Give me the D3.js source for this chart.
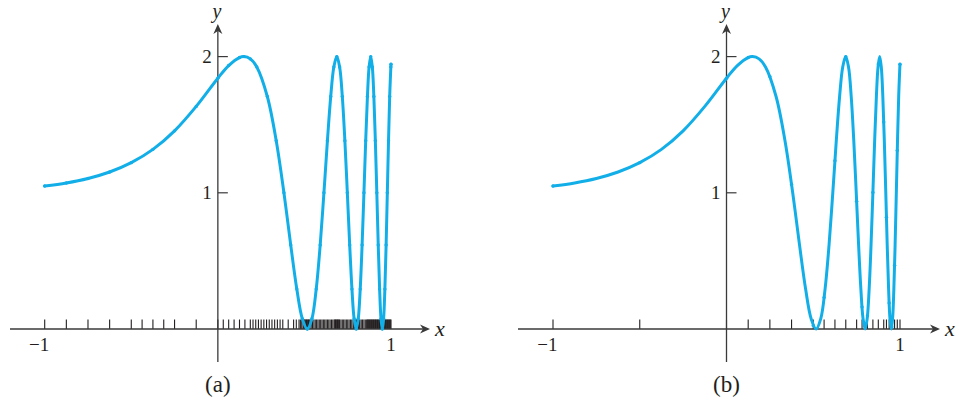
<!DOCTYPE html>
<html>
<head>
<meta charset="utf-8">
<script src="https://cdn.jsdelivr.net/npm/d3@7"></script>
<style>
  html, body { margin: 0; padding: 0; background: #fff; }
  svg { display: block; }
</style>
</head>
<body>
<svg id="chart" width="968" height="402" font-family="'Liberation Serif', 'Times New Roman', serif"></svg>
<script>
// ---- data ----
const curveX = [-1, -0.875, -0.75, -0.625, -0.5, -0.375, -0.25, -0.125, 0, 0.0625, 0.125, 0.1505, 0.1875,
  0.2249, 0.2857, 0.3371, 0.3816, 0.4208, 0.4560, 0.4877, 0.5167, 0.5434, 0.5681, 0.5911, 0.6126, 0.6328,
  0.6519, 0.6699, 0.6870, 0.7033, 0.7188, 0.7336, 0.7478, 0.7614, 0.7745, 0.7870, 0.7992, 0.8109, 0.8222,
  0.8331, 0.8437, 0.8539, 0.8639, 0.8735, 0.8829, 0.8921, 0.9010, 0.9096, 0.9181, 0.9263, 0.9343, 0.9422,
  0.9498, 0.9573, 0.9646, 0.9718, 0.9788, 0.9857, 0.9924, 0.9990, 1];
const curveY = [1.0498, 1.0724, 1.1052, 1.1527, 1.2213, 1.3190, 1.4550, 1.6345, 1.8415, 1.9342, 1.9933, 2, 1.9831,
  1.9239, 1.7071, 1.3827, 1, 0.6173, 0.2929, 0.0761, 0,
  0.0761, 0.2929, 0.6173, 1, 1.3827, 1.7071, 1.9239, 2,
  1.9239, 1.7071, 1.3827, 1, 0.6173, 0.2929, 0.0761, 0,
  0.0761, 0.2929, 0.6173, 1, 1.3827, 1.7071, 1.9239, 2,
  1.9239, 1.7071, 1.3827, 1, 0.6173, 0.2929, 0.0761, 0,
  0.0761, 0.2929, 0.6173, 1, 1.3827, 1.7071, 1.9239, 1.9446];

// sample points marked on the x axis, panel (a)
const samplesA = [-1, -0.875, -0.75, -0.625, -0.5, -0.4375, -0.375, -0.3125, -0.25, -0.125, 0,
  0.0313, 0.0625, 0.0938, 0.125, 0.1563, 0.1875,
  0.2031, 0.2188, 0.2344, 0.25, 0.2656, 0.2813, 0.2969, 0.3125, 0.3281, 0.3438, 0.3594, 0.375,
  0.4063, 0.4375, 0.4531,
  0.4688, 0.4766, 0.4844, 0.4922, 0.4961, 0.5, 0.5039, 0.5078, 0.5117, 0.5156, 0.5195, 0.5234, 0.5273, 0.5313,
  0.5391, 0.5469, 0.5547, 0.5625, 0.5703, 0.5781, 0.5859, 0.5938, 0.6016, 0.6094, 0.6172, 0.625, 0.6328,
  0.6406, 0.6484, 0.6563, 0.6641, 0.6719, 0.6758, 0.6797, 0.6836, 0.6875, 0.6914, 0.6953, 0.6992, 0.7031,
  0.7109, 0.7188, 0.7266, 0.7344, 0.7422, 0.75, 0.7578, 0.7656, 0.7734, 0.7813, 0.7852, 0.7891, 0.793,
  0.7969, 0.8008, 0.8047, 0.8086, 0.8125, 0.8164, 0.8203, 0.8281, 0.8359, 0.8438, 0.8516, 0.8594, 0.8633,
  0.8672, 0.8711, 0.875, 0.8789, 0.8828, 0.8867, 0.8906, 0.8945, 0.8984, 0.9023, 0.9063, 0.9102, 0.9141,
  0.918, 0.9219, 0.9258, 0.9297, 0.9336, 0.9375, 0.9414, 0.9453, 0.9492, 0.9531, 0.957, 0.9609, 0.9648,
  0.9688, 0.9727, 0.9766, 0.9805, 0.9844, 0.9883, 0.9922, 0.9961, 1];

// sample points, panel (b)
const samplesBX = [-1, -0.5, 0, 0.125, 0.25, 0.375, 0.5, 0.5625, 0.625, 0.6875, 0.75, 0.78125, 0.8125,
  0.84375, 0.875, 0.90625, 0.921875, 0.9375, 0.953125, 0.96875, 0.984375, 1];
const samplesBY = [1.0498, 1.2213, 1.8415, 1.9933, 1.8544, 1.0614, 0.0264, 0.2308, 1.2354, 1.9999, 0.9371,
  0.1615, 0.0982, 1.0028, 1.9455, 1.5199, 0.8202, 0.1906, 0.0147, 0.4675, 1.3110, 1.9446];

const xTickLabels = [-1, 1];
const yTickLabels = [1, 2];
const panelLabels = ["(a)", "(b)"];

// ---- drawing ----
const svg = d3.select("#chart");
const blue = "#12aee8";
const ink = "#231f20";
const axisCol = "#3a3a3a";

const y = d3.scaleLinear().domain([0, 2]).range([329, 56.6]);

const panels = [
  { x: d3.scaleLinear().domain([-1, 1]).range([44.7, 391]), xStart: 10, xEnd: 430,
    ticks: samplesA, dotsX: curveX, dotsY: curveY, label: panelLabels[0] },
  { x: d3.scaleLinear().domain([-1, 1]).range([553, 900]), xStart: 518, xEnd: 940,
    ticks: samplesBX, dotsX: samplesBX, dotsY: samplesBY, label: panelLabels[1] }
];

function arrow(g, tx, ty, dir) {
  let p;
  if (dir === "right") {
    p = `M${tx},${ty} L${tx - 10},${ty - 4.5} L${tx - 7},${ty} L${tx - 10},${ty + 4.5} Z`;
  } else {
    p = `M${tx},${ty} L${tx - 4.5},${ty + 10} L${tx},${ty + 7} L${tx + 4.5},${ty + 10} Z`;
  }
  g.append("path").attr("d", p).attr("fill", axisCol);
}

panels.forEach(P => {
  const g = svg.append("g");
  const x0 = P.x(0);
  const yBase = y(0);

  // sample ticks on x axis
  g.selectAll("line.samp").data(P.ticks).join("line")
    .attr("x1", d => P.x(d)).attr("x2", d => P.x(d))
    .attr("y1", yBase).attr("y2", yBase - 9.5)
    .attr("stroke", ink).attr("stroke-width", 1.1);

  // x axis
  g.append("line").attr("x1", P.xStart).attr("x2", P.xEnd - 6)
    .attr("y1", yBase).attr("y2", yBase).attr("stroke", axisCol).attr("stroke-width", 1.3);
  arrow(g, P.xEnd, yBase, "right");
  // y axis
  g.append("line").attr("x1", x0).attr("x2", x0)
    .attr("y1", 362).attr("y2", 30).attr("stroke", axisCol).attr("stroke-width", 1.3);
  arrow(g, x0, 24, "up");

  // y ticks
  g.selectAll("line.yt").data(yTickLabels).join("line")
    .attr("x1", x0).attr("x2", x0 + 10)
    .attr("y1", d => y(d)).attr("y2", d => y(d))
    .attr("stroke", axisCol).attr("stroke-width", 1.2);
  g.selectAll("text.yl").data(yTickLabels).join("text")
    .attr("x", x0 - 6).attr("y", d => y(d) + 6.5)
    .attr("text-anchor", "end").attr("font-size", 19).attr("fill", ink)
    .text(d => d);

  // x tick labels
  g.selectAll("text.xl").data(xTickLabels).join("text")
    .attr("x", d => d < 0 ? P.x(d) + 4.5 : P.x(d))
    .attr("y", 350.5)
    .attr("text-anchor", d => d < 0 ? "end" : "middle")
    .attr("font-size", 19).attr("fill", ink)
    .text(d => d < 0 ? "\u2212" + Math.abs(d) : d);

  // axis letters
  g.append("text").attr("x", P.xEnd + 5).attr("y", 336)
    .attr("font-size", 22).attr("font-style", "italic").attr("fill", ink).text("x");
  g.append("text").attr("x", x0 - 1).attr("y", 18).attr("text-anchor", "middle")
    .attr("font-size", 20).attr("font-style", "italic").attr("fill", ink).text("y");

  // panel label
  g.append("text").attr("x", x0).attr("y", 392).attr("text-anchor", "middle")
    .attr("font-size", 23).attr("fill", ink).text(P.label);

  // curve
  const pts = curveX.map((v, i) => [P.x(v), y(curveY[i])]);
  g.append("path")
    .attr("d", d3.line().curve(d3.curveCatmullRom.alpha(0.5))(pts))
    .attr("fill", "none").attr("stroke", blue).attr("stroke-width", 3)
    .attr("stroke-linecap", "round").attr("stroke-linejoin", "round");

  // sample dots on the curve
  g.selectAll("circle.dot").data(P.dotsX).join("circle")
    .attr("cx", d => P.x(d)).attr("cy", (d, i) => y(P.dotsY[i]))
    .attr("r", 1.7).attr("fill", blue);
});
</script>
</body>
</html>
